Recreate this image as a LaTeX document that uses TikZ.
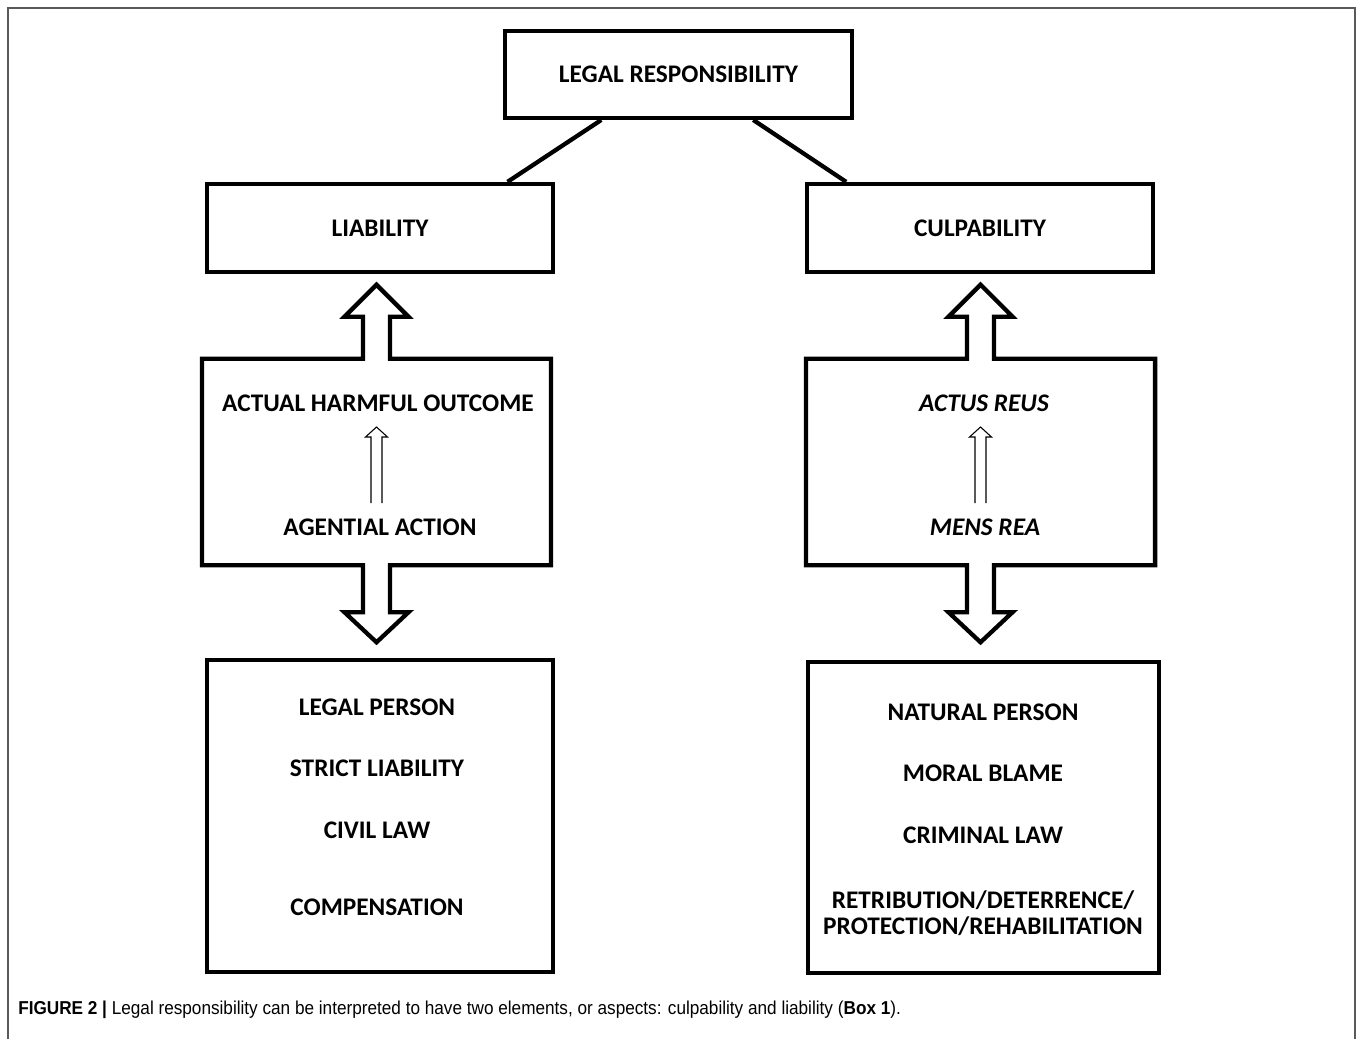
\documentclass[tikz,border=0pt]{standalone}
\usepackage{fontspec}
\setmainfont{Carlito}
\newfontfamily\capfont[FakeStretch=0.92]{Liberation Sans}
\usepackage{tikz}
\usetikzlibrary{positioning,calc}

\begin{document}
\begin{tikzpicture}[x=0.75pt, y=-0.75pt, font=\fontsize{19}{19.5}\selectfont\bfseries,
  bx/.style={draw, line width=3.2pt, inner sep=0pt},
  lbl/.style={inner sep=1pt, align=center},
  ol/.style={line width=3.2pt},
  ta/.style={line width=0.8pt}]
\useasboundingbox (0,0) rectangle (1358,1039);
\draw[gray!70!black, line width=0.8pt] (8,1039) -- (8,8) -- (1355,8) -- (1355,1039);
% top level
\node[bx, minimum width=260pt, minimum height=65pt] (resp) at (678.5,74.5) {LEGAL RESPONSIBILITY};
\node[bx, minimum width=259.5pt, minimum height=66pt] (liab) at (380,228) {LIABILITY};
\node[bx, minimum width=259.5pt, minimum height=66pt] (culp) at (980,228) {CULPABILITY};
\draw[ol] ($(resp.south west)!0.280!(resp.south east)$) -- ($(liab.north west)!0.864!(liab.north east)$);
\draw[ol] ($(resp.south west)!0.713!(resp.south east)$) -- ($(culp.north west)!0.118!(culp.north east)$);

% middle boxes with the big arrows
\foreach \n/\x in {midL/376.5, midR/980.5} {
  \node[minimum width=261.5pt, minimum height=154.5pt, inner sep=0pt] (\n) at (\x,462) {};
  \draw[ol] (\n.north west) -- ($(\n.north)+(-13.5,0)$) -- ++(0,-42) -- ++(-18.5,0) -- ++(32,-32)
    -- ++(32,32) -- ++(-18.5,0) -- ++(0,42) -- (\n.north east) -- (\n.south east)
    -- ($(\n.south)+(13.5,0)$) -- ++(0,47) -- ++(18.5,0) -- ++(-32,30) -- ++(-32,-30)
    -- ++(18.5,0) -- ++(0,-47) -- (\n.south west) -- cycle;
}
\node[lbl] (harm) at (378,403) {ACTUAL HARMFUL OUTCOME};
\node[lbl] (agent) at (380,527) {AGENTIAL ACTION};
\node[lbl] (actus) at (984,403) {\itshape ACTUS REUS};
\node[lbl] (mens) at (985,527) {\itshape MENS REA};
% thin arrows inside
\foreach \a/\b/\m in {agent/harm/midL, mens/actus/midR}
  \draw[ta] ($(\m |- \a.center)+(-5.5,-24)$) -- ($(\m |- \b.center)+(-5.5,34)$) -- ++(-5.5,0)
    -- ($(\m |- \b.center)+(0,24)$) -- ($(\m |- \b.center)+(11,34)$) -- ++(-5.5,0)
    -- ($(\m |- \a.center)+(5.5,-24)$);

% bottom boxes
\node[bx, minimum width=259.5pt, minimum height=234pt] (botL) at (380,816) {};
\node[bx, minimum width=263pt, minimum height=233pt] (botR) at (983.5,817.5) {};
\foreach \n/\y/\t in {lp/707/LEGAL PERSON, sl/768/STRICT LIABILITY, cl/830/CIVIL LAW, comp/907/COMPENSATION}
  \node[lbl] (\n) at (377,\y) {\t};
\foreach \n/\y/\t in {np/712/NATURAL PERSON, mb/773/MORAL BLAME, crl/835/CRIMINAL LAW,
  rdp/913.5/{RETRIBUTION/DETERRENCE/\\PROTECTION/REHABILITATION}}
  \node[lbl] (\n) at (983,\y) {\t};

\node[anchor=west, inner sep=0pt, font=\capfont\fontsize{14}{16}\selectfont] (cap) at (18,1010)
  {\textbf{FIGURE 2 |} Legal responsibility can be interpreted to have two elements, or aspects: culpability and liability (\textbf{Box 1}).};
\end{tikzpicture}
\end{document}
